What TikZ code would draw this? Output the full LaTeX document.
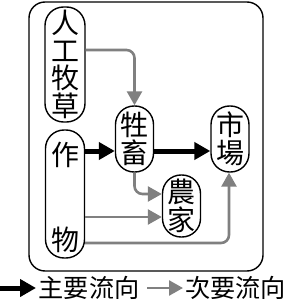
\documentclass[tikz,border=0pt]{standalone}
\usepackage{fontspec}
\newfontfamily\cjk{Noto Sans CJK TC}
\usetikzlibrary{arrows.meta}
\definecolor{gr}{RGB}{128,128,128}
\begin{document}
\begin{tikzpicture}[x=1pt,y=-1pt,
  box/.style={draw=black, line width=1.4pt, fill=white, rounded corners=18.5pt,
    minimum width=38pt, inner sep=0pt, font=\cjk\fontsize{28}{27.5}\selectfont, align=center},
  txt/.style={inner sep=0pt, font=\cjk\fontsize{28}{27.5}\selectfont},
  legtxt/.style={inner sep=0pt, anchor=west, font=\cjk\fontsize{25.2}{25.2}\selectfont},
  main/.style={line width=5pt, -{Triangle[length=16pt,width=17pt]}},
  minor/.style={draw=gr, line width=2.6pt, rounded corners=8pt,
    -{Triangle[length=14pt,width=15pt,fill=gr]}},
]
\useasboundingbox (0,0) rectangle (287,305);
\node[draw=black, line width=1.4pt, rounded corners=16pt, minimum width=234pt,
  minimum height=269pt, inner sep=0pt] (frame) at (146,136.5) {};

\node[box, minimum width=40pt, minimum height=115pt] (grass) at (65,64.5) {人\\工\\牧\\草};
\node[box, minimum width=39pt, minimum height=128pt] (crop) at (65,194) {};
\node[txt] (crop1) at (65,155) {作};
\node[txt] (crop2) at (65,240) {物};
\node[box, minimum height=66pt] (stock) at (134.5,139) {牲\\畜};
\node[box, minimum height=66pt] (market) at (230,139) {市\\場};
\node[box, minimum height=62pt] (farm) at (181.5,206) {農\\家};

\coordinate (ya) at (0,50);
\coordinate (yb) at (0,151);
\coordinate (yc) at (0,194);
\coordinate (yd) at (0,217);
\coordinate (ye) at (0,243);

\draw[minor] (grass.east |- ya) -- (stock.north |- ya) -- (stock.north);
\draw[main] (crop.east |- yb) -- (stock.west |- yb);
\draw[main] (stock.east |- yb) -- (market.west |- yb);
\draw[minor] (stock.south) -- (stock.south |- yc) -- (farm.west |- yc);
\draw[minor] (crop.east |- yd) -- (farm.west |- yd);
\draw[minor] (crop.east |- ye) -- ([xshift=-1pt]market.south |- ye) -- ([xshift=-1pt]market.south);

\coordinate (l1) at (0,288);
\coordinate (l2) at (36,288);
\node[legtxt] (leg1) at (38.5,288) {主要流向};
\coordinate (l3) at (147,288);
\coordinate (l4) at (183,288);
\node[legtxt] (leg2) at (185,288) {次要流向};
\draw[main] (l1) -- (l2);
\draw[minor] (l3) -- (l4);
\end{tikzpicture}
\end{document}
